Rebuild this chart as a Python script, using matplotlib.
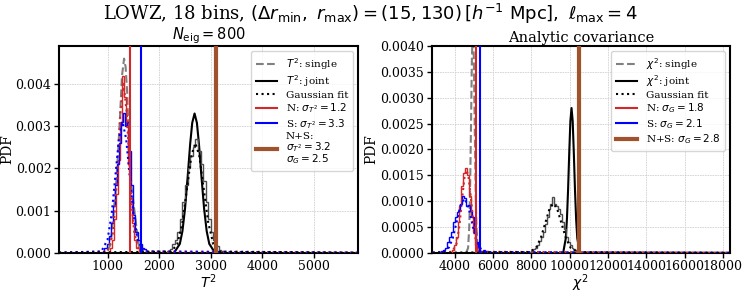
import matplotlib
matplotlib.use("Agg")
import matplotlib.pyplot as plt
from matplotlib.lines import Line2D
import numpy as np

plt.rcParams["font.family"] = ["DejaVu Serif"]
plt.rcParams["mathtext.fontset"] = "dejavusans"

# ── Left panel: T^2 (N_eig = 800) ──
T2_SINGLE_X = [1000, 1060, 1120, 1160, 1200, 1240, 1280, 1320, 1350, 1380, 1420, 1460, 1500, 1540, 1600, 1660]
T2_SINGLE_Y = [0.00005, 0.0002, 0.0010, 0.0015, 0.0023, 0.0032, 0.0042, 0.0046, 0.0044, 0.0038,
               0.0024, 0.0016, 0.0012, 0.0008, 0.0002, 0.00003]

T2_JOINT_X = [2300, 2400, 2450, 2500, 2550, 2600, 2640, 2685, 2730, 2770, 2820, 2870, 2920, 2970, 3070]
T2_JOINT_Y = [0.00002, 0.00021, 0.00051, 0.00104, 0.00178, 0.00258, 0.00308, 0.0033, 0.00308, 0.00258,
              0.00178, 0.00104, 0.00051, 0.00021, 0.00002]

T2_N_EDGES = np.arange(1040, 1601, 40)
T2_N_HIST = [0.0001, 0.0003, 0.0008, 0.0014, 0.0022, 0.0031, 0.0042, 0.0037, 0.0030, 0.0021,
             0.0013, 0.0007, 0.0003, 0.0001]
T2_N_FIT_X = [60, 1000, 1100, 1150, 1200, 1250, 1310, 1370, 1420, 1470, 1520, 1620, 5850]
T2_N_FIT_Y = [0, 0.00003, 0.00044, 0.0011, 0.00218, 0.00334, 0.0040, 0.00334, 0.00218, 0.0011,
              0.00044, 0.00003, 0]

T2_S_EDGES = np.arange(900, 1781, 40)
T2_S_HIST = [0.00002, 0.0001, 0.0002, 0.0004, 0.0007, 0.0011, 0.0016, 0.0021, 0.0026, 0.0031, 0.0033,
             0.0030, 0.0031, 0.0024, 0.0016, 0.0009, 0.0005, 0.0003, 0.0002, 0.0001, 0.00008, 0.00003]
T2_S_FIT_X = [60, 880, 1000, 1080, 1150, 1220, 1290, 1360, 1430, 1500, 1580, 1700, 5850]
T2_S_FIT_Y = [0, 0.00003, 0.00031, 0.00092, 0.0018, 0.0027, 0.0031, 0.0027, 0.0018, 0.00092,
              0.00031, 0.00003, 0]

T2_NS_EDGES = np.arange(2150, 3251, 50)
T2_NS_HIST = [0.00003, 0.00008, 0.0002, 0.0003, 0.0005, 0.0008, 0.0012, 0.0016, 0.0020, 0.0023, 0.0025,
              0.0027, 0.0024, 0.0021, 0.0017, 0.0012, 0.0008, 0.0005, 0.0003, 0.00015, 0.00007, 0.00003]
T2_NS_FIT_X = [60, 2230, 2350, 2450, 2550, 2625, 2700, 2775, 2850, 2950, 3050, 3170, 5850]
T2_NS_FIT_Y = [0, 0.000026, 0.0002, 0.00071, 0.00163, 0.00231, 0.0026, 0.00231, 0.00163, 0.00071,
               0.0002, 0.000026, 0]

T2_VLINES = {"N": 1437, "S": 1647, "N+S": 3098}
T2_LABELS = ["$T^2$: single", "$T^2$: joint", "Gaussian fit",
             "N: $\\sigma_{T^2} = 1.2$", "S: $\\sigma_{T^2} = 3.3$",
             "N+S:\n$\\sigma_{T^2} = 3.2$\n$\\sigma_G = 2.5$"]

# ── Right panel: chi^2 (analytic covariance) ──
CHI_SINGLE_X = [4600, 4700, 4760, 4800, 4850, 4900, 4950, 5000, 5050, 5100, 5140, 5200, 5300]
CHI_SINGLE_Y = [0.0, 0.00009, 0.00048, 0.0011, 0.00238, 0.00377, 0.0044, 0.00377, 0.00238, 0.0011,
                0.00048, 0.00009, 0.0]

CHI_JOINT_X = [9680, 9800, 9860, 9920, 9980, 10040, 10100, 10160, 10220, 10280, 10340, 10400, 10520]
CHI_JOINT_Y = [0.00003, 0.00028, 0.00065, 0.00122, 0.00193, 0.00255, 0.0028, 0.00255, 0.00193, 0.00122,
               0.00065, 0.00028, 0.00003]

CHI_N_EDGES = np.arange(3850, 5251, 100)
CHI_N_HIST = [0.00005, 0.00015, 0.0003, 0.0006, 0.0009, 0.0013, 0.00155, 0.00163, 0.0015, 0.0011,
              0.0007, 0.0004, 0.00015, 0.00005]
CHI_N_FIT_X = [2850, 3870, 4100, 4250, 4400, 4520, 4620, 4720, 4840, 4990, 5140, 5370, 18300]
CHI_N_FIT_Y = [0, 0.000018, 0.00018, 0.00053, 0.00109, 0.00148, 0.0016, 0.00148, 0.00109, 0.00053,
               0.00018, 0.000018, 0]

CHI_S_EDGES = np.arange(3200, 5801, 100)
CHI_S_HIST = [0.00001, 0.00003, 0.00006, 0.0001, 0.0002, 0.0003, 0.0004, 0.0006, 0.0007, 0.00078,
              0.0008, 0.00095, 0.0011, 0.00105, 0.0009, 0.00092, 0.0008, 0.0007, 0.0004, 0.0002,
              0.0001, 0.00003, 0.00002, 0.00006, 0.00004, 0.00001]
CHI_S_FIT_X = [2850, 3400, 3700, 3900, 4100, 4300, 4500, 4700, 4900, 5100, 5300, 5600, 18300]
CHI_S_FIT_Y = [0, 0.000013, 0.0001, 0.00028, 0.00059, 0.00091, 0.00105, 0.00091, 0.00059, 0.00028,
               0.0001, 0.000013, 0]

CHI_NS_EDGES = np.arange(7900, 10801, 100)
CHI_NS_HIST = [0.00001, 0.00004, 0.00007, 0.0001, 0.00015, 0.00022, 0.0003, 0.0004, 0.00055, 0.0007,
               0.00085, 0.00095, 0.00107, 0.00095, 0.0009, 0.00085, 0.00075, 0.0006, 0.00045, 0.0003,
               0.0002, 0.00015, 0.0001, 0.00007, 0.00005, 0.00003, 0.00002, 0.00001, 0.000005]
CHI_NS_FIT_X = [2850, 7900, 8250, 8500, 8750, 8950, 9150, 9350, 9550, 9800, 10050, 10400, 18300]
CHI_NS_FIT_Y = [0, 0.000011, 0.000096, 0.00029, 0.0006, 0.00085, 0.00095, 0.00085, 0.0006, 0.00029,
                0.000096, 0.000011, 0]

CHI_VLINES = {"N": 5090, "S": 5330, "N+S": 10490}
CHI_LABELS = ["$\\chi^2$: single", "$\\chi^2$: joint", "Gaussian fit",
              "N: $\\sigma_G = 1.8$", "S: $\\sigma_G = 2.1$", "N+S: $\\sigma_G = 2.8$"]

RED, BLUE, BROWN, GREY = "#d62728", "#0000ff", "#a0522d", "0.5"


def draw_panel(ax, single, joint, hists, fits, vlines, labels):
    ax.plot(*single, ls="--", color=GREY, lw=1.5, zorder=2)
    ax.plot(*joint, color="black", lw=1.5, zorder=2)
    for (edges, vals), (fx, fy), key, col in zip(hists, fits, ["N", "S", "N+S"],
                                                  [RED, BLUE, "0.3"]):
        ax.stairs(vals, edges, color=col, lw=1.0, zorder=3)
        ax.plot(fx, fy, ls=":", color="black" if key == "N+S" else col, lw=1.5, zorder=4)
    ax.axvline(vlines["N"], color=RED, lw=1.5, zorder=5)
    ax.axvline(vlines["S"], color=BLUE, lw=1.5, zorder=5)
    ax.axvline(vlines["N+S"], color=BROWN, lw=3, zorder=5)

    handles = [Line2D([], [], ls="--", color=GREY, lw=1.5),
               Line2D([], [], color="black", lw=1.5),
               Line2D([], [], ls=":", color="black", lw=1.5),
               Line2D([], [], color=RED, lw=1.5),
               Line2D([], [], color=BLUE, lw=1.5),
               Line2D([], [], color=BROWN, lw=3)]
    leg = ax.legend(handles, labels, loc="upper right", fontsize=7.5, labelspacing=0.15,
                    handlelength=2.0, borderpad=0.5, borderaxespad=0.45)
    for t in leg.get_texts():
        t.set_linespacing(0.85)

    ax.grid(True, color="0.82", lw=0.6, ls=(0, (2, 1)))
    ax.set_axisbelow(True)
    for s in ax.spines.values():
        s.set_linewidth(1.5)
    ax.tick_params(direction="out", length=3.5, width=1.0, labelsize=9, pad=2)
    ax.set_ylabel("PDF", fontsize=10, labelpad=1)


fig = plt.figure(figsize=(7.48, 2.93), dpi=100)
ax1 = fig.add_axes([0.0789, 0.1375, 0.3997, 0.7055])
ax2 = fig.add_axes([0.5771, 0.1375, 0.3988, 0.7055])

draw_panel(ax1, (T2_SINGLE_X, T2_SINGLE_Y), (T2_JOINT_X, T2_JOINT_Y),
           [(T2_N_EDGES, T2_N_HIST), (T2_S_EDGES, T2_S_HIST), (T2_NS_EDGES, T2_NS_HIST)],
           [(T2_N_FIT_X, T2_N_FIT_Y), (T2_S_FIT_X, T2_S_FIT_Y), (T2_NS_FIT_X, T2_NS_FIT_Y)],
           T2_VLINES, T2_LABELS)
ax1.set_xlim(60, 5850)
ax1.set_ylim(0, 0.0049)
ax1.set_xticks([1000, 2000, 3000, 4000, 5000])
ax1.set_yticks([0, 0.001, 0.002, 0.003, 0.004])
ax1.yaxis.set_major_formatter(plt.FormatStrFormatter("%.3f"))
ax1.set_xlabel("$T^2$", fontsize=10, labelpad=-1)
ax1.set_title("$N_{\\rm eig} = 800$", fontsize=10.5, pad=3)

draw_panel(ax2, (CHI_SINGLE_X, CHI_SINGLE_Y), (CHI_JOINT_X, CHI_JOINT_Y),
           [(CHI_N_EDGES, CHI_N_HIST), (CHI_S_EDGES, CHI_S_HIST), (CHI_NS_EDGES, CHI_NS_HIST)],
           [(CHI_N_FIT_X, CHI_N_FIT_Y), (CHI_S_FIT_X, CHI_S_FIT_Y), (CHI_NS_FIT_X, CHI_NS_FIT_Y)],
           CHI_VLINES, CHI_LABELS)
ax2.set_xlim(2800, 18370)
ax2.set_ylim(0, 0.004)
ax2.set_xticks(np.arange(4000, 18001, 2000))
ax2.set_yticks(np.arange(0, 0.00401, 0.0005))
ax2.yaxis.set_major_formatter(plt.FormatStrFormatter("%.4f"))
ax2.set_xlabel("$\\chi^2$", fontsize=10, labelpad=-1)
ax2.set_title("Analytic covariance", fontsize=10.5, pad=3)

fig.suptitle("LOWZ, 18 bins, $(\\Delta r_{\\rm min},\\ r_{\\rm max}) = (15, 130)\\,[h^{-1}\\ {\\rm Mpc}],\\ \\ell_{\\rm max} = 4$",
             fontsize=13, y=0.995, x=0.495)

fig.savefig("out.png", dpi=100)
